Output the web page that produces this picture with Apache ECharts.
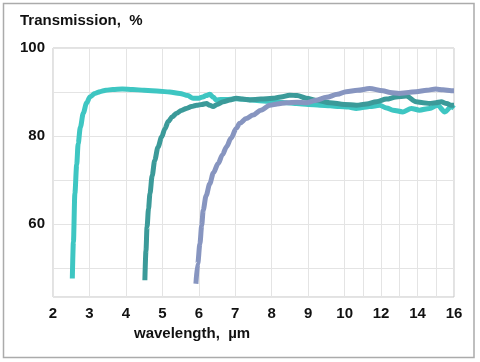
<!DOCTYPE html>
<html><head><meta charset="utf-8">
<script src="https://cdn.jsdelivr.net/npm/echarts@6/dist/echarts.min.js"></script>
<style>html,body{margin:0;padding:0;background:#fff}#c{width:480px;height:362px}</style>
</head><body><div id="c"></div>
<script>
// wavelength tick labels (axis is linear 2–10, then compressed 10–16)
const xTickLabels = [2,3,4,5,6,7,8,9,10,12,14,16];
const yTickLabels = [60,80,100];

const turqX = [2.53,2.56,2.60,2.65,2.69,2.75,2.83,2.92,3.01,3.15,3.29,3.45,3.64,3.90,4.19,4.50,4.93,5.20,5.48,5.70,5.84,6.00,6.11,6.20,6.30,6.40,6.48,6.60,6.76,7.00,7.30,7.76,8.20,8.68,9.00,9.32,9.60,9.86,10.20,10.64,11.00,11.37,11.92,12.30,12.65,13.20,13.66,14.10,14.66,15.10,15.50,15.85,16.00];
const turqT = [47.7,56.0,67.0,73.5,78.3,82.0,85.2,87.5,88.9,89.7,90.1,90.4,90.6,90.7,90.6,90.4,90.2,90.0,89.7,89.2,88.6,88.6,88.9,89.2,89.5,88.8,88.2,88.3,88.3,88.5,88.3,88.0,87.7,87.4,87.2,87.0,86.9,86.7,86.6,86.3,86.5,86.7,87.0,86.4,85.9,85.5,86.3,85.9,86.3,87.0,85.5,86.7,86.3];

const tealX = [4.52,4.55,4.58,4.62,4.66,4.72,4.79,4.88,4.98,5.07,5.16,5.27,5.39,5.52,5.66,5.80,5.94,6.08,6.21,6.30,6.39,6.50,6.67,6.85,7.03,7.20,7.40,7.70,8.03,8.25,8.49,8.70,8.95,9.25,9.59,10.00,10.64,11.20,11.74,12.30,12.82,13.38,13.92,14.30,14.66,15.00,15.30,15.60,15.85,16.00];
const tealT = [47.3,54.0,59.4,63.5,67.0,71.0,74.5,77.5,79.8,81.7,83.3,84.4,85.2,85.8,86.3,86.7,87.0,87.2,87.4,87.0,86.7,87.2,87.8,88.2,88.6,88.4,88.2,88.4,88.6,88.9,89.3,89.2,88.6,88.1,87.6,87.2,87.0,87.3,87.8,88.4,88.9,89.1,87.8,87.6,87.4,87.6,87.8,87.4,87.0,87.0];

const slateX = [5.92,5.97,6.03,6.08,6.12,6.20,6.30,6.40,6.53,6.65,6.76,6.88,7.03,7.12,7.30,7.49,7.70,7.95,8.15,8.40,8.70,8.95,9.20,9.50,9.80,10.08,10.70,11.37,12.10,12.50,13.00,13.50,13.92,14.50,15.00,15.40,15.85,16.00];
const slateT = [46.5,51.0,55.6,59.8,63.2,66.5,69.2,71.7,73.8,75.8,77.6,79.5,81.8,82.9,84.0,84.8,85.9,87.0,87.3,87.6,87.7,87.6,88.1,88.8,89.5,90.1,90.4,90.8,90.3,89.9,89.7,89.9,90.1,90.4,90.7,90.5,90.3,90.3];

// piecewise axis: 1 unit per µm up to 10, 1 unit per 2 µm beyond
function fwd(l){ return l <= 10 ? l : 10 + (l - 10) / 2; }
function inv(v){ return v <= 10 ? v : 10 + (v - 10) * 2; }
function pairs(xs, ys){ return xs.map((x,i)=>[fwd(x), ys[i]]); }

const FONT = '"Liberation Sans", Arial, sans-serif';
const chart = echarts.init(document.getElementById('c'), null, {renderer:'canvas'});
const gridLeft = 53, gridRight = 26, gridTop = 48, gridBottom = 65;
const plotW = 480 - gridLeft - gridRight;
const tenPx = gridLeft + (fwd(10) - 2) / (fwd(16) - 2) * plotW;

chart.setOption({
  animation:false,
  backgroundColor:'#fff',
  graphic:[
    {type:'rect', shape:{x:3.5,y:3.5,width:470.5,height:354}, style:{fill:'none', stroke:'#ababab', lineWidth:1.5}, z:-1},
    {type:'text', left:20, top:13, style:{text:'Transmission,  %', font:'bold 15px '+FONT, fill:'#111'}},
    {type:'text', left:134, top:326, style:{text:'wavelength,  µm', font:'bold 15px '+FONT, fill:'#111'}}
  ],
  grid:[
    {left:gridLeft, right:gridRight, top:gridTop, bottom:gridBottom, show:true, borderColor:'#c4c4c4', borderWidth:1},
    {left:tenPx, right:gridRight, top:gridTop, bottom:gridBottom}
  ],
  xAxis:[
    {type:'value', gridIndex:0, min:2, max:fwd(16), interval:1,
     axisLine:{show:false}, axisTick:{show:false},
     splitLine:{show:true, lineStyle:{color:'#e4e4e4', width:1}},
     axisLabel:{color:'#111', fontSize:15, fontWeight:'bold', fontFamily:FONT, margin:9,
       formatter:v=>{ const l = inv(v); return xTickLabels.includes(l) ? String(l) : ''; }}},
    {type:'value', gridIndex:1, min:10, max:13, interval:0.5,
     axisLine:{show:false}, axisTick:{show:false}, axisLabel:{show:false},
     splitLine:{show:true, lineStyle:{color:'#e4e4e4', width:1}}}
  ],
  yAxis:[
    {type:'value', gridIndex:0, min:43.5, max:100, splitNumber:5,
     axisLine:{show:false}, axisTick:{show:false},
     splitLine:{show:true, lineStyle:{color:'#e4e4e4', width:1}},
     axisLabel:{color:'#111', fontSize:15, fontWeight:'bold', fontFamily:FONT, margin:8,
       formatter:v=> yTickLabels.includes(v) ? String(v) : ''}},
    {type:'value', gridIndex:1, min:43.5, max:100, show:false, splitLine:{show:false}}
  ],
  series:[
    {type:'line', xAxisIndex:0, yAxisIndex:0, data:pairs(turqX, turqT), symbol:'none', smooth:0.3, smoothMonotone:'x',
     lineStyle:{color:'#3ec6c2', width:5}, z:3},
    {type:'line', xAxisIndex:0, yAxisIndex:0, data:pairs(tealX, tealT), symbol:'none', smooth:0.3, smoothMonotone:'x',
     lineStyle:{color:'#3b9a99', width:5}, z:4},
    {type:'line', xAxisIndex:0, yAxisIndex:0, data:pairs(slateX, slateT), symbol:'none', smooth:0.3, smoothMonotone:'x',
     lineStyle:{color:'#8795c0', width:5}, z:5}
  ]
});
</script></body></html>
